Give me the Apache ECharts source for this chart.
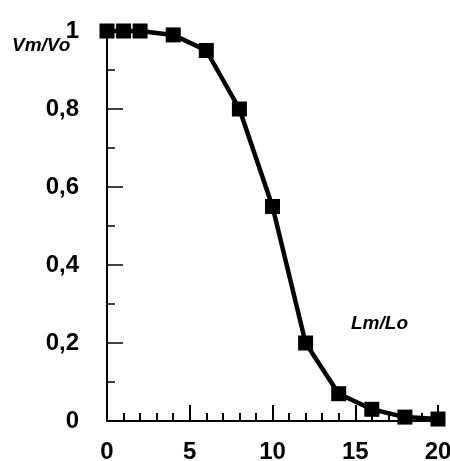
<!DOCTYPE html>
<html>
<head>
<meta charset="utf-8">
<script src="https://cdn.jsdelivr.net/npm/echarts@6/dist/echarts.min.js"></script>
<style>
  html, body { margin: 0; padding: 0; background: #fff; }
  #chart { width: 450px; height: 461px; }
</style>
</head>
<body>
<div id="chart"></div>
<script>
// data
let lmLo = [0, 1, 2, 4, 6, 8, 10, 12, 14, 16, 18, 20];
let vmVo = [1, 1, 1, 0.99, 0.95, 0.8, 0.55, 0.2, 0.07, 0.03, 0.01, 0.005];

let font = 'Liberation Sans, Arial, sans-serif';

let chart = echarts.init(document.getElementById('chart'));
let option = {
  animation: false,
  grid: { left: 107, right: 12, top: 31, bottom: 40, outerBoundsMode: 'none' },
  xAxis: {
    type: 'value',
    min: 0,
    max: 20,
    interval: 5,
    splitLine: { show: false },
    axisLine: { lineStyle: { color: '#000', width: 2 } },
    axisTick: { inside: true, length: 16, lineStyle: { color: '#000', width: 2 } },
    minorTick: { show: true, splitNumber: 5, length: 8, lineStyle: { color: '#000', width: 2 } },
    axisLabel: { color: '#000', fontFamily: font, fontWeight: 'bold', fontSize: 24, margin: 19 }
  },
  yAxis: {
    type: 'value',
    min: 0,
    max: 1,
    interval: 0.2,
    splitLine: { show: false },
    axisLine: { lineStyle: { color: '#000', width: 2 } },
    axisTick: { inside: true, length: 16, lineStyle: { color: '#000', width: 1.5 } },
    minorTick: { show: true, splitNumber: 2, length: 8, lineStyle: { color: '#000', width: 1.5 } },
    axisLabel: {
      color: '#000', fontFamily: font, fontWeight: 'bold', fontSize: 24, margin: 28,
      formatter: function (v) {
        return String(Math.round(v * 10) / 10).replace('.', ',');
      }
    }
  },
  graphic: [
    {
      type: 'text', left: 12, top: 36,
      style: { text: 'Vm/Vo', fill: '#000', font: 'italic bold 19px ' + font }
    },
    {
      type: 'text', left: 351, top: 314,
      style: { text: 'Lm/Lo', fill: '#000', font: 'italic bold 19px ' + font }
    }
  ],
  series: [
    {
      type: 'line',
      data: lmLo.map(function (x, i) { return [x, vmVo[i]]; }),
      clip: false,
      symbol: 'rect',
      symbolSize: 15,
      lineStyle: { color: '#000', width: 4.5 },
      itemStyle: { color: '#000', borderWidth: 0 }
    }
  ]
};
chart.setOption(option);
</script>
</body>
</html>
